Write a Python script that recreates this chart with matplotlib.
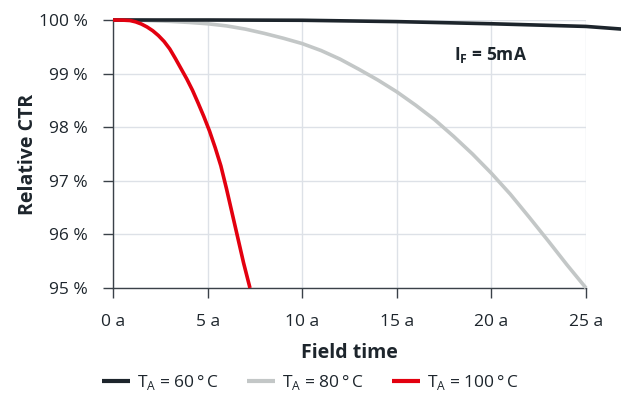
import matplotlib
matplotlib.use("Agg")
import matplotlib.pyplot as plt

plt.rcParams['font.family'] = ['Open Sans', 'DejaVu Sans']

years_60 = [0, 5, 10, 15, 20, 25, 26.9]
ctr_60 = [100.0, 100.0, 99.995, 99.97, 99.93, 99.88, 99.83]

years_80 = [0, 1.5, 3, 4, 5, 6, 7, 8, 9, 10, 11, 12, 13, 14, 15, 16, 17, 18, 19, 20, 21, 22, 23, 24, 25]
ctr_80 = [100.0, 99.995, 99.975, 99.955, 99.93, 99.89, 99.83, 99.75, 99.66, 99.56, 99.43, 99.27, 99.08,
          98.88, 98.66, 98.41, 98.14, 97.83, 97.5, 97.14, 96.75, 96.32, 95.88, 95.43, 95.0]

years_100 = [0, 0.5, 0.9, 1.2, 1.5, 1.8, 2.1, 2.4, 2.7, 3.0, 3.3, 3.6, 3.9, 4.2, 4.5, 4.8, 5.1, 5.4,
             5.7, 6.0, 6.3, 6.6, 6.9, 7.24]
ctr_100 = [100.0, 99.998, 99.99, 99.965, 99.925, 99.87, 99.8, 99.71, 99.6, 99.46, 99.28, 99.09, 98.9,
           98.69, 98.45, 98.2, 97.93, 97.62, 97.28, 96.85, 96.39, 95.93, 95.47, 95.0]

labels = ['T$_\\mathregular{A}$ = 60\u2009°\u2009C', 'T$_\\mathregular{A}$ = 80\u2009°\u2009C', 'T$_\\mathregular{A}$ = 100\u2009°\u2009C']
colors = ['#1d252c', '#c3c7c7', '#e3000f']
xticks = [0, 5, 10, 15, 20, 25]
xticklabels = ['0 a', '5 a', '10 a', '15 a', '20 a', '25 a']
yticks = [95, 96, 97, 98, 99, 100]
yticklabels = ['95 %', '96 %', '97 %', '98 %', '99 %', '100 %']

text_color = '#1d252c'

fig = plt.figure(figsize=(6.21, 3.94), dpi=100)
ax = fig.add_axes([113/621, 1-288/394, (586-113)/621, (288-20)/394])

series = [(years_60, ctr_60), (years_80, ctr_80), (years_100, ctr_100)]
zorders = [4, 3, 5]
lines = []
for k in range(3):
    xs, ys = series[k]
    ln, = ax.plot(xs, ys, color=colors[k], lw=2.6, label=labels[k], clip_on=False,
                  solid_capstyle='butt', solid_joinstyle='round', zorder=zorders[k])
    lines.append(ln)

ax.set_xlim(0, 25)
ax.set_ylim(95, 100)
ax.set_xticks(xticks)
ax.set_xticklabels(xticklabels)
ax.set_yticks(yticks)
ax.set_yticklabels(yticklabels)
ax.grid(True, color='#dde1e7', lw=1.0, zorder=0)
ax.set_axisbelow(True)
for s in ['top', 'right']:
    ax.spines[s].set_visible(False)
for s in ['left', 'bottom']:
    ax.spines[s].set_color('#3a4148')
    ax.spines[s].set_linewidth(1.0)
ax.tick_params(axis='both', colors='#3a4148', labelcolor=text_color, labelsize=12.5, length=7, width=1.0)
ax.tick_params(axis='x', pad=12)
ax.tick_params(axis='y', pad=11)

ax.set_xlabel('Field time', fontsize=14, fontweight='bold', color=text_color, labelpad=9)
ax.set_ylabel('Relative CTR', fontsize=14, fontweight='bold', color=text_color, labelpad=1)

ax.text(0.72, 0.87, 'I$_\\mathregular{F}$ = 5mA', transform=ax.transAxes, fontsize=12.5,
        fontweight='bold', color=text_color, ha='left', va='center')

leg = fig.legend(lines, labels, loc='center', bbox_to_anchor=(0.5, 1 - 383/394),
                 ncol=3, frameon=False, fontsize=12.5, handlelength=1.6, columnspacing=1.6,
                 handletextpad=0.4, borderpad=0)
for t in leg.get_texts():
    t.set_color(text_color)
for h in leg.legend_handles:
    h.set_linewidth(3.0)

fig.savefig('out.png', dpi=100)
